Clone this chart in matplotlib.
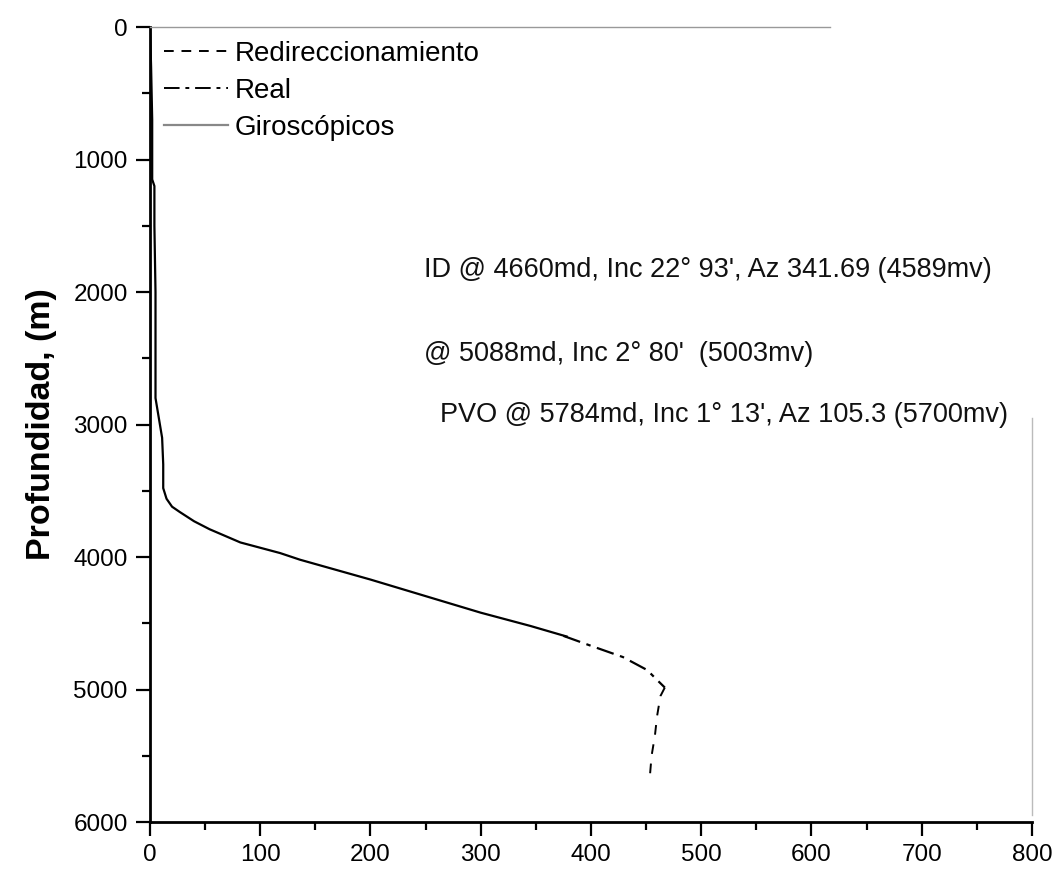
import matplotlib
matplotlib.use('Agg')
from matplotlib import pyplot as plt
from matplotlib.lines import Line2D
from matplotlib.ticker import MultipleLocator

plt.rcParams['font.family'] = ['Liberation Sans', 'DejaVu Sans']

# Giroscopicos (solid) survey: displacement [m], depth [m]
giro_x = [0, 1, 2, 2, 4, 4, 5, 5, 5, 8, 11, 12, 12, 15, 20, 27, 40, 54, 82, 118, 136, 200, 260, 300, 345, 378]
giro_z = [0, 300, 700, 1150, 1200, 1500, 2000, 2500, 2800, 2950, 3100, 3300, 3480, 3560, 3620, 3660,
          3730, 3790, 3890, 3970, 4020, 4170, 4320, 4420, 4520, 4600]

# Real (dash-dot)
real_x = [375, 400, 429, 451, 460, 467]
real_z = [4595, 4670, 4755, 4853, 4928, 4985]

# Redireccionamiento (dashed)
redir_x = [467, 463, 460, 458, 455, 453]
redir_z = [4985, 5050, 5200, 5350, 5500, 5700]

notes = ["ID @ 4660md, Inc 22° 93', Az 341.69 (4589mv)",
         "@ 5088md, Inc 2° 80'  (5003mv)",
         "PVO @ 5784md, Inc 1° 13', Az 105.3 (5700mv)"]
note_x = [249, 249, 263]
note_z = [1834, 2470, 2928]

fig = plt.figure(figsize=(10.6, 8.73), dpi=100)
ax = fig.add_axes([0.1415, 0.0584, 0.832, 0.9106])

ax.plot(giro_x, giro_z, '-', color='black', lw=1.6)
ax.plot(real_x, real_z, color='black', lw=1.6, linestyle=(0, (8, 3, 2, 3)))
ax.plot(redir_x, redir_z, color='black', lw=1.4, linestyle=(0, (5, 5)))

for txt, x, z in zip(notes, note_x, note_z):
    ax.text(x, z, txt, fontsize=19.5, va='center', ha='left', color='#111111')

ax.set_xlim(0, 800)
ax.set_ylim(6000, 0)
ax.xaxis.set_major_locator(MultipleLocator(100))
ax.xaxis.set_minor_locator(MultipleLocator(50))
ax.yaxis.set_major_locator(MultipleLocator(1000))
ax.yaxis.set_minor_locator(MultipleLocator(500))
ax.tick_params(which='both', direction='out', width=1.6, labelsize=17.5, colors='black')
ax.tick_params(which='major', length=10, pad=6)
ax.tick_params(which='minor', length=6)

ax.spines['left'].set_linewidth(2)
ax.spines['bottom'].set_linewidth(2)
ax.spines['top'].set_color('#999999')
ax.spines['top'].set_linewidth(1)
ax.spines['top'].set_bounds(0, 617)
ax.spines['right'].set_color('#bbbbbb')
ax.spines['right'].set_linewidth(1)
ax.spines['right'].set_bounds(2950, 5950)

ax.set_ylabel('Profundidad, (m)', fontsize=24.5, fontweight='bold', labelpad=12)

handles = [Line2D([], [], color='black', lw=1.4, linestyle=(0, (5, 4))),
           Line2D([], [], color='black', lw=1.4, linestyle=(0, (8, 3, 2, 3))),
           Line2D([], [], color='#888888', lw=1.6)]
labels = ['Redireccionamiento', 'Real', 'Giroscópicos']
ax.legend(handles, labels, loc='upper left', frameon=False, fontsize=20,
          handlelength=2.3, handletextpad=0.25, labelspacing=0.4,
          borderaxespad=0.2, borderpad=0.3)

fig.savefig('out.png', dpi=100)
